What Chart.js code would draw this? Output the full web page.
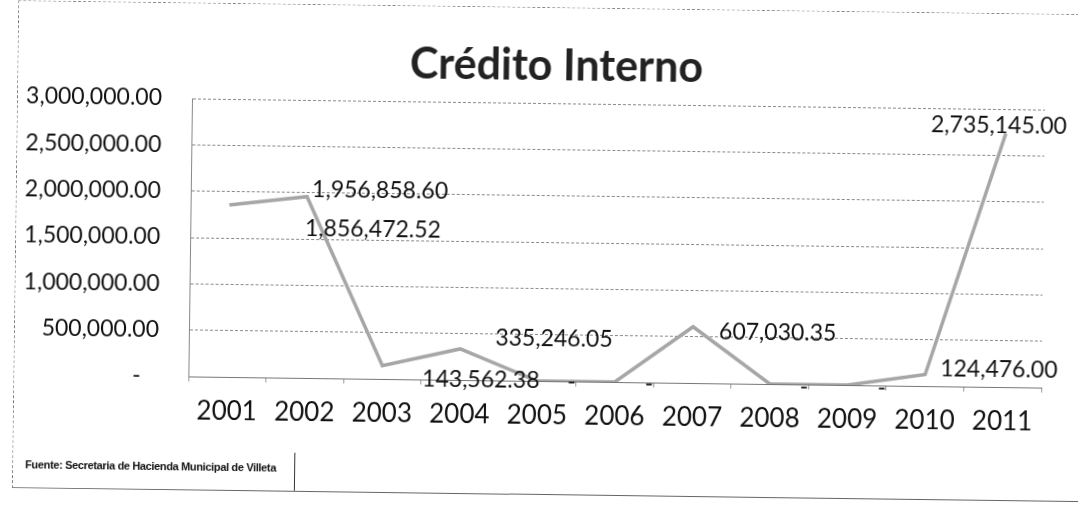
<!DOCTYPE html>
<html>
<head>
<meta charset="utf-8">
<script src="https://cdn.jsdelivr.net/npm/chart.js@4/dist/chart.umd.min.js"></script>
<style>
  html, body { margin: 0; padding: 0; background: #fff; overflow: hidden; }
  #page { position: absolute; left: 0; top: 0; width: 1078px; height: 506px; transform: rotate(0.75deg); transform-origin: 539px 253px; }
  #frame { position: absolute; left: 15px; top: 7px; width: 1100px; height: 486px; border-left: 1px dashed #777; border-top: 1px dashed #888; border-bottom: 1px solid #666; }
  #chartBox { position: absolute; left: 0; top: 0; width: 1078px; height: 506px; }
  #fuente { position: absolute; left: 16px; top: 456px; width: 282px; height: 38px; border-right: 1px solid #333; white-space: nowrap;
            font: bold 11px "Liberation Sans", Arial, sans-serif; color: #111; line-height: 30px; padding-left: 12px; box-sizing: border-box; letter-spacing: -0.35px; }
</style>
</head>
<body>
<div id="page">
  <div id="frame"></div>
  <div id="chartBox"><canvas id="creditoChart" width="1078" height="506"></canvas></div>
  <div id="fuente">Fuente: Secretaria de Hacienda Municipal de Villeta</div>
</div>
<script>
const years = ['2001', '2002', '2003', '2004', '2005', '2006', '2007', '2008', '2009', '2010', '2011'];
const creditoInterno = [1856472.52, 1956858.60, 143562.38, 335246.05, 0, 0, 607030.35, 0, 0, 124476.00, 2735145.00];
const yTickLabels = ['-   ', '500,000.00', '1,000,000.00', '1,500,000.00', '2,000,000.00', '2,500,000.00', '3,000,000.00'];

// where each value label sits relative to its point (px)
const labelOffsets = [[76, 23], [5, -7], [40, 13], [35, -11], [30, 1], [30, 2], [26, 5], [30, 3], [30, 3], [15, -6], [-75, -8]];

function fmt(v) {
    if (v === 0) return '-';
    return v.toLocaleString('en-US', { minimumFractionDigits: 2, maximumFractionDigits: 2 });
}

const valueLabels = {
    id: 'valueLabels',
    afterDatasetsDraw(chart) {
        const ctx = chart.ctx;
        const meta = chart.getDatasetMeta(0);
        ctx.save();
        ctx.font = '23px Lato';
        ctx.fillStyle = '#111';
        ctx.textBaseline = 'middle';
        ctx.textAlign = 'left';
        meta.data.forEach((pt, i) => {
            const off = labelOffsets[i];
            ctx.fillText(fmt(creditoInterno[i]), pt.x + off[0], pt.y + off[1]);
        });
        ctx.restore();
    }
};

const bigTitle = {
    id: 'bigTitle',
    afterDraw(chart) {
        const ctx = chart.ctx;
        ctx.save();
        ctx.font = 'bold 43px Lato';
        ctx.fillStyle = '#222';
        ctx.textAlign = 'center';
        ctx.textBaseline = 'alphabetic';
        ctx.fillText('Crédito Interno', 554, 80);
        ctx.restore();
    }
};

const ctx1 = document.getElementById('creditoChart').getContext('2d');
const creditoChart = new Chart(ctx1, {
    type: 'line',
    data: {
        labels: years,
        datasets: [{
            label: 'Crédito Interno',
            data: creditoInterno,
            borderColor: '#a6a6a6',
            borderWidth: 3.5,
            pointRadius: 0,
            tension: 0,
            fill: false,
        }]
    },
    plugins: [valueLabels, bigTitle],
    options: {
        responsive: false,
        animation: false,
        layout: { padding: { top: 103, right: 35, bottom: 0, left: 0 } },
        plugins: {
            legend: { display: false },
            title: { display: false },
            tooltip: { enabled: false }
        },
        scales: {
            x: {
                offset: true,
                grid: { offset: true, drawOnChartArea: false, drawTicks: true, tickLength: 5, color: '#999' },
                border: { display: true, color: '#777', dash: [4, 2] },
                ticks: { color: '#111', font: { family: 'Lato', size: 26 }, padding: 14 },
                afterFit(scale) { scale.height = 125; }
            },
            y: {
                min: 0,
                max: 3000000,
                grid: { color: '#8a8a8a', lineWidth: 1, drawTicks: false },
                border: { display: true, color: '#888', dash: [3, 2] },
                ticks: {
                    stepSize: 500000,
                    padding: 30,
                    color: '#111',
                    font: { family: 'Lato', size: 23 },
                    callback: (v, i) => yTickLabels[i]
                },
                afterFit(scale) { scale.width = 190; }
            }
        }
    }
});
</script>
</body>
</html>
